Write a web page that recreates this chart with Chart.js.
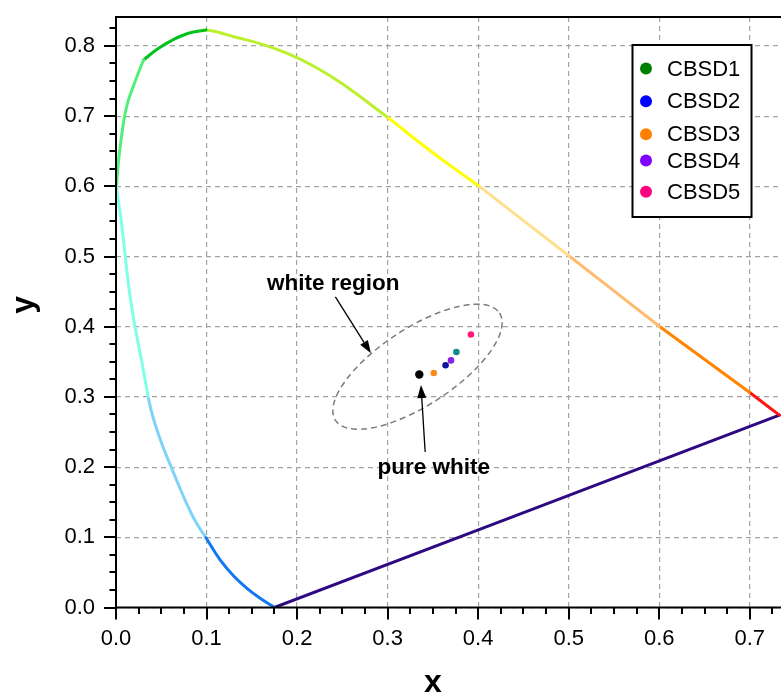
<!DOCTYPE html>
<html>
<head>
<meta charset="utf-8">
<script src="https://cdn.jsdelivr.net/npm/chart.js@4.4.0/dist/chart.umd.min.js"></script>
<style>
  html, body { margin: 0; padding: 0; background: #fff; overflow: hidden; }
  #wrap { width: 800px; height: 698px; }
</style>
</head>
<body>
<div id="wrap"><canvas id="cie" width="800" height="698"></canvas></div>
<script>
// spectral locus, cut into coloured pieces, as (x, y) chromaticity pairs
const locusBlue  = [[0.175, 0.0], [0.160, 0.0125], [0.145, 0.027], [0.130, 0.045], [0.115, 0.068], [0.0994, 0.0994]];
const locusSky   = [[0.0994, 0.0994], [0.088, 0.122], [0.078, 0.148], [0.069, 0.175], [0.061, 0.200],
                    [0.053, 0.225], [0.046, 0.250], [0.040, 0.275], [0.036, 0.297]];
const locusCyan  = [[0.036, 0.297], [0.0285, 0.350], [0.021, 0.400], [0.0148, 0.450], [0.0102, 0.500],
                    [0.0058, 0.550], [0.0025, 0.580], [0.0005, 0.600]];
const locusLightGreen = [[0.0005, 0.600], [0.002, 0.625], [0.004, 0.650], [0.0065, 0.675], [0.0095, 0.700],
                         [0.0135, 0.722], [0.019, 0.742], [0.0245, 0.761], [0.0305, 0.780]];
const locusGreen = [[0.0305, 0.780], [0.045, 0.795], [0.0618, 0.808], [0.080, 0.818], [0.0994, 0.8226]];
const locusLime  = [[0.0994, 0.8226], [0.110, 0.8205], [0.130, 0.813], [0.160, 0.803], [0.190, 0.789],
                    [0.220, 0.770], [0.250, 0.746], [0.2992, 0.6992]];
const locusYellow = [[0.2992, 0.6992], [0.347, 0.6507], [0.4003, 0.6009]];
const locusPale   = [[0.4003, 0.6009], [0.5005, 0.5007]];
const locusPeach  = [[0.5005, 0.5007], [0.600, 0.4007]];
const locusOrange = [[0.600, 0.4007], [0.6996, 0.3066]];
const locusRed    = [[0.6996, 0.3066], [0.7327, 0.274]];
const purpleLine  = [[0.175, 0.0], [0.7327, 0.274]];

const locusPieces = [locusBlue, locusSky, locusCyan, locusLightGreen, locusGreen, locusLime,
                     locusYellow, locusPale, locusPeach, locusOrange, locusRed, purpleLine];
const locusColors = ['#1279f3', '#7fd3fa', '#80ffe6', '#52f07a', '#00c21c', '#bcf02e',
                     '#ffff00', '#ffdf8c', '#ffbb70', '#ff8400', '#ff1414', '#2e0a82'];

// measured samples
const sampleNames = ['CBSD1', 'CBSD2', 'CBSD3', 'CBSD4', 'CBSD5'];
const sampleX = [0.376, 0.364, 0.351, 0.370, 0.392];
const sampleY = [0.364, 0.345, 0.334, 0.352, 0.389];
const sampleColors = ['#10898a', '#1212a2', '#ff8a1a', '#8a22e6', '#ff1a7c'];
const legendColors = ['#008000', '#0000ff', '#ff8000', '#8000ff', '#ff007f'];

// equal-energy white point
const whiteX = 0.335;
const whiteY = 0.332;

// white region outline: centre, end of long axis, end of short axis
const regionCenter = [0.333, 0.343];
const regionMajorEnd = [0.4236, 0.4195];
const regionMinorEnd = [0.3564, 0.2973];

// labels with their arrows: text centre, tail, tip
const regionLabel = { text: 'white region', at: [0.240, 0.461], tail: [0.2423, 0.4426], tip: [0.2816, 0.3621] };
const whiteLabel  = { text: 'pure white',   at: [0.351, 0.199], tail: [0.3415, 0.2215], tip: [0.3368, 0.317] };

const xTickValues = [0.0, 0.1, 0.2, 0.3, 0.4, 0.5, 0.6, 0.7];
const yTickValues = [0.0, 0.1, 0.2, 0.3, 0.4, 0.5, 0.6, 0.7, 0.8];

const FONT = '"Liberation Sans", Arial, sans-serif';

const datasets = [];
// dots first so they sit on top
datasets.push({
  data: [{ x: whiteX, y: whiteY }],
  pointRadius: 4.2, pointBackgroundColor: '#000', pointBorderWidth: 0, showLine: false
});
sampleNames.forEach((name, i) => {
  datasets.push({
    label: name,
    data: [{ x: sampleX[i], y: sampleY[i] }],
    pointRadius: 3.3, pointBackgroundColor: sampleColors[i], pointBorderWidth: 0, showLine: false
  });
});
locusPieces.forEach((piece, i) => {
  datasets.push({
    data: piece.map(p => ({ x: p[0], y: p[1] })),
    showLine: true, borderColor: locusColors[i], borderWidth: 3,
    borderCapStyle: 'round', borderJoinStyle: 'round',
    pointRadius: 0, tension: 0.4, fill: false
  });
});

function arrow(ctx, x, y, lab) {
  const tx = x.getPixelForValue(lab.tail[0]), ty = y.getPixelForValue(lab.tail[1]);
  const hx = x.getPixelForValue(lab.tip[0]), hy = y.getPixelForValue(lab.tip[1]);
  const ang = Math.atan2(hy - ty, hx - tx);
  const len = 13, half = 4.5;
  const bx = hx - len * Math.cos(ang), by = hy - len * Math.sin(ang);
  ctx.beginPath();
  ctx.moveTo(tx, ty);
  ctx.lineTo(bx, by);
  ctx.strokeStyle = '#000';
  ctx.lineWidth = 1.3;
  ctx.stroke();
  ctx.beginPath();
  ctx.moveTo(hx, hy);
  ctx.lineTo(bx + half * Math.sin(ang), by - half * Math.cos(ang));
  ctx.lineTo(bx - half * Math.sin(ang), by + half * Math.cos(ang));
  ctx.closePath();
  ctx.fillStyle = '#000';
  ctx.fill();
  ctx.font = 'bold 22.5px ' + FONT;
  ctx.textAlign = 'center';
  ctx.textBaseline = 'middle';
  ctx.fillText(lab.text, x.getPixelForValue(lab.at[0]), y.getPixelForValue(lab.at[1]));
}

// keep the plot box where the layout padding puts it
function noScalePadding(s) {
  s.paddingTop = 0; s.paddingBottom = 0; s.paddingLeft = 0; s.paddingRight = 0;
}

const decor = {
  id: 'decor',
  beforeDatasetsDraw(chart) {
    const { ctx, scales: { x, y } } = chart;
    const cx = x.getPixelForValue(regionCenter[0]), cy = y.getPixelForValue(regionCenter[1]);
    const mx = x.getPixelForValue(regionMajorEnd[0]) - cx, my = y.getPixelForValue(regionMajorEnd[1]) - cy;
    const nx = x.getPixelForValue(regionMinorEnd[0]) - cx, ny = y.getPixelForValue(regionMinorEnd[1]) - cy;
    ctx.save();
    ctx.beginPath();
    ctx.ellipse(cx, cy, Math.hypot(mx, my), Math.hypot(nx, ny), Math.atan2(my, mx), 0, Math.PI * 2);
    ctx.setLineDash([6, 4]);
    ctx.strokeStyle = '#7c7c7c';
    ctx.lineWidth = 1.5;
    ctx.stroke();
    ctx.restore();
  },
  afterDraw(chart) {
    const { ctx, chartArea: a, scales: { x, y } } = chart;
    ctx.save();

    // plot frame
    ctx.strokeStyle = '#000';
    ctx.lineWidth = 2;
    ctx.strokeRect(a.left, a.top, a.right - a.left, a.bottom - a.top);

    // major and minor tick marks, pointing out
    ctx.lineWidth = 2;
    ctx.beginPath();
    for (let i = 0; i * 0.025 <= x.max + 1e-9; i++) {
      const px = Math.round(x.getPixelForValue(i * 0.025));
      const len = i % 4 === 0 ? 12 : 6.5;
      ctx.moveTo(px, a.bottom);
      ctx.lineTo(px, a.bottom + len);
    }
    for (let i = 0; i * 0.025 <= y.max + 1e-9; i++) {
      const py = Math.round(y.getPixelForValue(i * 0.025));
      const len = i % 4 === 0 ? 12 : 6.5;
      ctx.moveTo(a.left, py);
      ctx.lineTo(a.left - len, py);
    }
    ctx.stroke();

    // axis titles
    ctx.fillStyle = '#000';
    ctx.font = 'bold 32px ' + FONT;
    ctx.textAlign = 'center';
    ctx.textBaseline = 'alphabetic';
    ctx.fillText('x', x.getPixelForValue(0.35), 692);
    ctx.save();
    ctx.translate(33, y.getPixelForValue(0.431));
    ctx.rotate(-Math.PI / 2);
    ctx.fillText('y', 0, 0);
    ctx.restore();

    // annotations
    arrow(ctx, x, y, regionLabel);
    arrow(ctx, x, y, whiteLabel);

    // legend box
    const lx = 632.5, ly = 45, lw = 119, lh = 172;
    ctx.fillStyle = '#fff';
    ctx.fillRect(lx, ly, lw, lh);
    ctx.strokeStyle = '#000';
    ctx.lineWidth = 2;
    ctx.strokeRect(lx, ly, lw, lh);
    const rows = [68.5, 101.3, 134.3, 160.5, 191.7];
    ctx.font = '22px ' + FONT;
    ctx.textAlign = 'left';
    ctx.textBaseline = 'middle';
    sampleNames.forEach((name, i) => {
      ctx.beginPath();
      ctx.arc(646, rows[i], 6, 0, Math.PI * 2);
      ctx.fillStyle = legendColors[i];
      ctx.fill();
      ctx.fillStyle = '#000';
      ctx.fillText(name, 667, rows[i] + 1);
    });

    ctx.restore();
  }
};

new Chart(document.getElementById('cie'), {
  type: 'scatter',
  data: { datasets },
  plugins: [decor],
  options: {
    responsive: false,
    devicePixelRatio: 1,
    animation: false,
    events: [],
    layout: { padding: { left: 0, top: 17, right: 14, bottom: 0 } },
    plugins: { legend: { display: false }, tooltip: { enabled: false } },
    scales: {
      x: {
        type: 'linear', min: 0, max: 0.74,
        afterBuildTicks: s => { s.ticks = xTickValues.map(v => ({ value: v })); },
        afterFit: s => { s.height = 90.5; noScalePadding(s); },
        ticks: {
          callback: v => v.toFixed(1), color: '#000', padding: 18,
          font: { family: FONT, size: 22 }, maxRotation: 0, autoSkip: false
        },
        grid: { color: '#a3a3a3', lineWidth: 1.2, drawTicks: false },
        border: { display: false, dash: [5, 4] }
      },
      y: {
        type: 'linear', min: 0, max: 0.8412,
        afterBuildTicks: s => { s.ticks = yTickValues.map(v => ({ value: v })); },
        afterFit: s => { s.width = 116; noScalePadding(s); },
        ticks: {
          callback: v => v.toFixed(1), color: '#000', padding: 21,
          font: { family: FONT, size: 22 }, autoSkip: false
        },
        grid: { color: '#a3a3a3', lineWidth: 1.2, drawTicks: false },
        border: { display: false, dash: [5, 4] }
      }
    }
  }
});
</script>
</body>
</html>
